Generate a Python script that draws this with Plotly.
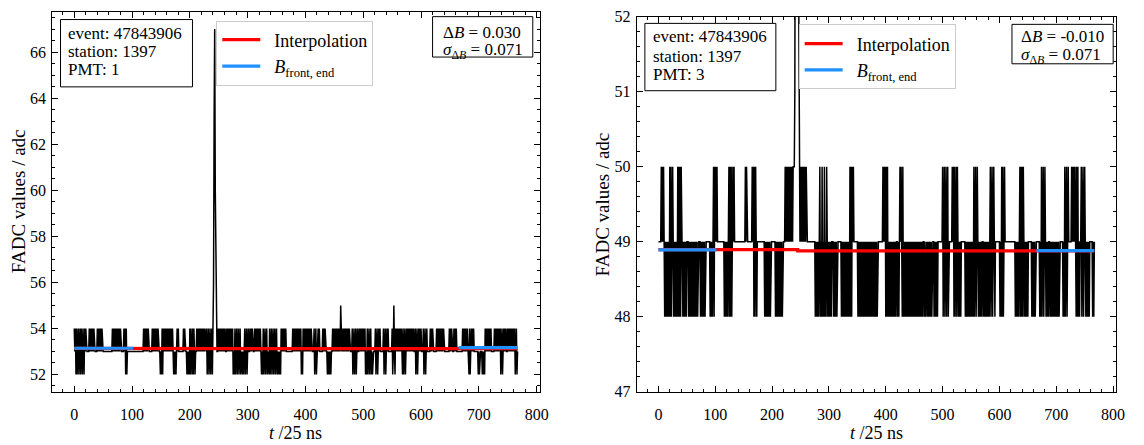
import plotly.graph_objects as go

FONT = "Liberation Serif"

# ---------------------------------------------------------------------------
# FADC traces: one character per time bin, value = offset + digit.
# Each line holds 64 bins (t = 0 ... 767).
# ---------------------------------------------------------------------------
LEFT_OFFSET = 50
LEFT_SAMPLES = (
    "434" "2423423" "4" "2432432434" "33333" "434343434" "33333" "4343434343" "33333333333333"
    "33" "434343434343434" "33333" "4342423" "333333333333333333333333333" "43434343"
    "43" "33333" "434343434343" "33" "232" "4243" "4343434343434343" "232323" "434" "33333333" "434"
    "3" "33" "23232" "4243242432" "33" "434343434343434" "33" "42342342342" "43333333" "3" "4343434"
    "343434" "33" "43434343434" "232" "423423423423" "32323" "4234234" "33" "434343" "33" "43434343"
    "4343" "232" "423423423" "32" "4234234" "23" "423423" "23232" "4343434343" "3333333333" "434343"
    "43434343" "4232" "434343434343434" "3333" "4234234" "434" "33333" "434343" "33" "2323232" "33" "4"
    "3434343434343" "5" "33" "4343434343434" "3333" "4234234234" "33" "43434343434" "232" "42342"
    "34232" "3333" "4234234" "343" "3333" "4234234" "343" "33333" "423" "5" "324" "3434343434" "3242342" "34"
    "343434343434" "33" "4234234" "34343" "33" "423423" "4" "33333" "434343" "33333" "4343434343434"
    "333333333" "43434" "333" "434343" "333333333" "434343434" "33" "24234" "3434" "3333333" "2323" "3"
    "33" "23232" "434343434343" "3333" "4343434343" "423423" "43434" "33" "434343434343" "423423"
)
LEFT_PEAK_T = [241, 242, 243, 244, 245, 246]
LEFT_PEAK_ADC = [56, 63, 67, 60, 57, 55]

RIGHT_OFFSET = 45
RIGHT_SAMPLES = (
    "44444" "545454" "343434343" "5353" "45" "4" "3434343" "5353535" "44" "3434343" "444" "34343434343"
    "434343" "4444" "343434343" "44444444" "343434" "535" "4545" "444444444444" "3434343" "4" "5353"
    "53" "4545" "4444444444444444444" "5454" "44444444" "545" "3535" "43" "4444444444444" "34343"
    "434343" "44444444" "3434343434343" "4444" "545454545454545" "55555555555" "4545454"
    "545454" "44444444444444" "34343434" "5343534353435" "434343434" "44" "34343434" "4444"
    "44" "343434343434343" "5353" "545" "4444444" "343434343434343434343434343434" "343"
    "434" "44444444" "54545" "35353" "43434343434343" "44" "3434" "5454" "35" "34343434343434343"
    "434343434343434343" "44" "3434" "4" "3434343434" "44" "3434343" "44444444" "534534534534"
    "44444" "545" "3534535" "434343" "4444444" "343434343434343" "5345345" "434343434" "4" "3434"
    "34343434" "5345345" "434" "4444444" "343" "5353" "454" "44444444444444444" "34343434" "5353"
    "535" "434343434" "44444" "3434343" "4444444" "343" "5345345" "434343" "44" "343434343434343"
    "434" "44444" "343" "5345345" "44444" "54545454" "3535" "343" "44" "5345345" "434343434" "4444" "3434"
)
RIGHT_PEAK_T = [240, 241, 242, 243, 244, 245, 246, 247]
RIGHT_PEAK_ADC = [51, 55, 60, 56, 53, 55, 57, 52]

# Baseline estimates (adc)
LEFT_FRONT, LEFT_END = 53.14, 53.17
LEFT_INTERP = [53.13, 53.13, 53.12, 53.12]
RIGHT_FRONT, RIGHT_END = 48.89, 48.88
RIGHT_INTERP = [48.895, 48.895, 48.877, 48.877]
INTERP_T = [0, 245, 245, 767]
FRONT_WINDOW = [0, 102]
END_WINDOW = [665, 767]

EVENT_ID = 47843906
STATION_ID = 1397
PMTS = [1, 3]
DELTA_B = ["0.030", "-0.010"]
SIGMA_DELTA_B = ["0.071", "0.071"]

X_RANGE = [-38.35, 805.35]
LEFT_Y_RANGE = [51.25, 67.75]
RIGHT_Y_RANGE = [47, 52]


def decode(samples, offset, peak_t, peak_adc):
    values = [offset + int(c) for c in samples]
    for t, v in zip(peak_t, peak_adc):
        values[t] = v
    return values


left_trace = decode(LEFT_SAMPLES, LEFT_OFFSET, LEFT_PEAK_T, LEFT_PEAK_ADC)
right_trace = decode(RIGHT_SAMPLES, RIGHT_OFFSET, RIGHT_PEAK_T, RIGHT_PEAK_ADC)

W, H = 1144, 445


def px_x(v):
    return v / W


def px_y(v):
    return 1 - v / H


fig = go.Figure()

NBSP = "\u00a0"
panels = [
    dict(trace=left_trace, front=LEFT_FRONT, end=LEFT_END, interp=LEFT_INTERP,
         xa="x", ya="y", legend="legend"),
    dict(trace=right_trace, front=RIGHT_FRONT, end=RIGHT_END, interp=RIGHT_INTERP,
         xa="x2", ya="y2", legend="legend2"),
]

for p in panels:
    fig.add_trace(go.Scatter(
        x=list(range(len(p["trace"]))), y=p["trace"], mode="lines",
        line=dict(color="black", width=1.5), showlegend=False,
        xaxis=p["xa"], yaxis=p["ya"], hoverinfo="skip"))
    fig.add_trace(go.Scatter(
        x=INTERP_T, y=p["interp"], mode="lines",
        line=dict(color="#ff0000", width=3.2), name=NBSP * 2 + "Interpolation",
        xaxis=p["xa"], yaxis=p["ya"], legend=p["legend"]))
    fig.add_trace(go.Scatter(
        x=FRONT_WINDOW + [None] + END_WINDOW,
        y=[p["front"]] * 2 + [None] + [p["end"]] * 2, mode="lines",
        line=dict(color="#1e90ff", width=3.2),
        name=NBSP * 2 + "<i>B</i><sub>front, end</sub>",
        xaxis=p["xa"], yaxis=p["ya"], legend=p["legend"]))

tick_font = dict(family=FONT, size=16, color="black")


def axis(domain, rng, dtick, tick0, minor_dtick, anchor, standoff):
    return dict(
        domain=domain, range=rng, anchor=anchor,
        showline=True, linecolor="black", linewidth=1, mirror="allticks",
        ticks="inside", ticklen=6, tickwidth=1, tickcolor="black",
        dtick=dtick, tick0=tick0, ticklabelstandoff=standoff,
        minor=dict(ticks="inside", ticklen=3, tickwidth=1, tickcolor="black",
                   dtick=minor_dtick, tick0=tick0, showgrid=False),
        showgrid=False, zeroline=False, tickfont=tick_font,
    )


left_x = [px_x(52.5), px_x(544)]
right_x = [px_x(641.7), px_x(1125)]
left_y = [px_y(399), px_y(4)]
right_y = [px_y(399), px_y(9)]

legend_style = dict(
    bgcolor="white", bordercolor="#cccccc", borderwidth=1,
    font=dict(family=FONT, size=18, color="black"),
    xanchor="left", yanchor="top", tracegroupgap=0, itemwidth=38,
)

fig.update_layout(
    width=W, height=H, margin=dict(l=0, r=0, t=0, b=0),
    plot_bgcolor="white", paper_bgcolor="white",
    font=dict(family=FONT, size=16, color="black"),
    xaxis=axis(left_x, X_RANGE, 100, 0, 20, "y", 8),
    yaxis=axis(left_y, LEFT_Y_RANGE, 2, 52, 0.5, "x", 2),
    xaxis2=axis(right_x, X_RANGE, 100, 0, 20, "y2", 8),
    yaxis2=axis(right_y, RIGHT_Y_RANGE, 1, 47, 0.2, "x2", 2),
    legend=dict(x=px_x(218), y=px_y(13), **legend_style),
    legend2=dict(x=px_x(805), y=px_y(17), **legend_style),
)

shapes = []
annotations = []

# text boxes: (left, top, right, bottom) in pixels, text left edge, line centres
info_boxes = [((61, 12, 194, 82), 67, [26, 45, 64]),
              ((650, 16, 782, 86), 656, [30, 50, 69])]
delta_boxes = [((436, 9, 537, 51), 444, [25, 45]),
               ((1020, 17, 1122, 58), 1027, [30, 50])]

box_font = dict(family=FONT, size=17, color="black")


def add_box(rect, text_x, centres, lines):
    x0, y0, x1, y1 = rect
    shapes.append(dict(
        type="rect", xref="paper", yref="paper",
        x0=px_x(x0), x1=px_x(x1), y0=px_y(y1), y1=px_y(y0),
        line=dict(color="black", width=1), fillcolor="white", layer="above"))
    for cy, txt in zip(centres, lines):
        annotations.append(dict(
            xref="paper", yref="paper", x=px_x(text_x), y=px_y(cy),
            xanchor="left", yanchor="middle", showarrow=False,
            text=txt, font=box_font))


for i in range(2):
    rect, tx, cys = info_boxes[i]
    add_box(rect, tx, cys, [f"event: {EVENT_ID}", f"station: {STATION_ID}",
                            f"PMT: {PMTS[i]}"])
    rect, tx, cys = delta_boxes[i]
    add_box(rect, tx, cys, [f"Δ<i>B</i> = {DELTA_B[i]}",
                            f"<i>σ</i><sub>Δ<i>B</i></sub> = {SIGMA_DELTA_B[i]}"])

# axis titles
for cx in [(52.5 + 544) / 2, (641.7 + 1125) / 2]:
    annotations.append(dict(
        xref="paper", yref="paper", x=px_x(cx), y=px_y(442),
        xanchor="center", yanchor="middle", showarrow=False,
        text="<i>t</i> /25 ns", font=dict(family=FONT, size=18, color="black")))
for cx, cy in [(18, 201), (607, 204)]:
    annotations.append(dict(
        xref="paper", yref="paper", x=px_x(cx), y=px_y(cy),
        xanchor="center", yanchor="middle", showarrow=False, textangle=-90,
        text="FADC values / adc", font=dict(family=FONT, size=19, color="black")))

fig.update_layout(shapes=shapes, annotations=annotations)

fig.write_html("out.html")
